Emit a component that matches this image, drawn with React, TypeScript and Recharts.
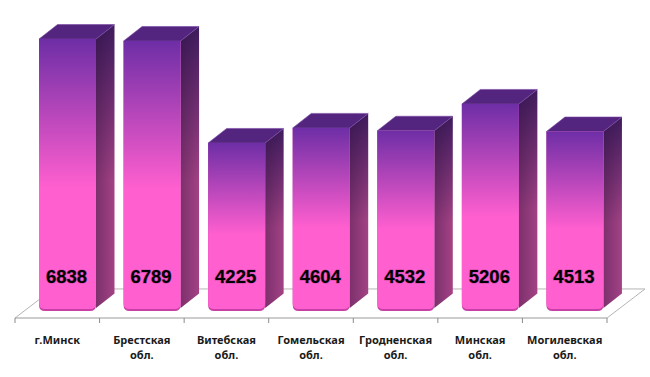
import React from "react";
import { BarChart, Bar, XAxis, YAxis, ReferenceArea, LabelList } from "recharts";

const categories = ["г.Минск", "Брестская обл.", "Витебская обл.", "Гомельская обл.", "Гродненская обл.", "Минская обл.", "Могилевская обл."];
const values = [6838, 6789, 4225, 4604, 4532, 5206, 4513];
const data = categories.map((name, i) => ({ name, value: values[i] }));

const SHIFT_X = 10;
const SHIFT_Y = -7;
const DX = 18.5;
const DY = 14.5;

function Bar3D(props: any) {
  const { x, y, width, height } = props;
  const l = x + SHIFT_X;
  const r = l + width;
  const t = y + SHIFT_Y;
  const b = t + height;
  const rad = 6;
  return (
    <g>
      <polygon points={`${r},${t} ${r + DX},${t - DY} ${r + DX},${b - DY - 3} ${r},${b - 3}`} fill="url(#sideGrad)" />
      <polygon points={`${r},${t} ${r + DX},${t - DY} ${r + DX},${b - DY - 3} ${r},${b - 3}`} fill="url(#sideShade)" />
      <polygon points={`${l},${t} ${l + DX},${t - DY} ${r + DX},${t - DY} ${r},${t}`} fill="#54257F" stroke="#7A46A6" strokeWidth={0.6} />
      <path d={`M${l},${t} L${r},${t} L${r},${b - rad} Q${r},${b} ${r - rad},${b} L${l + rad},${b} Q${l},${b} ${l},${b - rad} Z`} fill="#C83FA6" />
      <path d={`M${l},${t} L${r},${t} L${r},${b - rad - 2} Q${r},${b - 2} ${r - rad},${b - 2} L${l + rad},${b - 2} Q${l},${b - 2} ${l},${b - rad - 2} Z`} fill="url(#frontGrad)" />
    </g>
  );
}

function Floor(props: any) {
  const { x, y, width, height } = props;
  const bottom = y + height;
  const dx = 38;
  return (
    <polyline
      points={`${x},${bottom} ${x + dx},${y} ${x + width + dx},${y} ${x + width},${bottom}`}
      fill="none"
      stroke="#B5B5B5"
      strokeWidth={1}
    />
  );
}

function CategoryTick(props: any) {
  const { x, payload, index } = props;
  const band = 592 / categories.length;
  const words = String(payload.value).split(" ");
  return (
    <g>
      <line x1={x - band / 2} x2={x - band / 2} y1={318} y2={323} stroke="#8C8C8C" />
      {index === categories.length - 1 && (
        <line x1={x + band / 2} x2={x + band / 2} y1={318} y2={323} stroke="#8C8C8C" />
      )}
      <text textAnchor="middle" fontFamily="'Noto Sans', sans-serif" fontWeight={700} fontSize={11} fill="#1a1a1a">
        {words.map((w, i) => (
          <tspan key={i} x={x} y={344 + i * 15}>{w}</tspan>
        ))}
      </text>
    </g>
  );
}

function ValueLabel(props: any) {
  const { x, width, value } = props;
  return (
    <text
      x={x + SHIFT_X + width / 2 - 1}
      y={283}
      textAnchor="middle"
      fontFamily="'Liberation Sans', Arial, sans-serif"
      fontWeight={700}
      fontSize={18.5}
      fill="#000"
      style={{ paintOrder: "stroke" }}
      stroke="rgba(90,20,90,0.35)"
      strokeWidth={1.2}
    >
      {value}
    </text>
  );
}

export default function App() {
  return (
    <div style={{ position: "absolute", left: 0, top: 0, width: 650, height: 377, background: "#fff" }}>
      <BarChart
        width={650}
        height={377}
        data={data}
        margin={{ top: 39.6, right: 43, bottom: 0, left: 15 }}
        barSize={57}
      >
        <defs>
          <linearGradient id="frontGrad" x1="0" y1="0" x2="0" y2="1">
            <stop offset="0" stopColor="#6E2EA6" />
            <stop offset="0.55" stopColor="#FF5FCF" />
            <stop offset="1" stopColor="#FF5FCF" />
          </linearGradient>
          <linearGradient id="sideGrad" x1="0" y1="0" x2="0" y2="1">
            <stop offset="0" stopColor="#3F1C5E" />
            <stop offset="0.55" stopColor="#A34285" />
            <stop offset="1" stopColor="#A34285" />
          </linearGradient>
          <linearGradient id="sideShade" x1="0" y1="0" x2="1" y2="0">
            <stop offset="0" stopColor="#200830" stopOpacity={0.3} />
            <stop offset="1" stopColor="#200830" stopOpacity={0} />
          </linearGradient>
        </defs>
        <YAxis hide domain={[0, 7000]} />
        <XAxis
          dataKey="name"
          axisLine={{ stroke: "#9A9A9A" }}
          tickLine={false}
          interval={0}
          height={59}
          tick={<CategoryTick />}
        />
        <ReferenceArea y1={0} y2={730} shape={<Floor />} ifOverflow="visible" />
        <Bar dataKey="value" shape={<Bar3D />} isAnimationActive={false}>
          <LabelList dataKey="value" content={<ValueLabel />} />
        </Bar>
      </BarChart>
    </div>
  );
}
